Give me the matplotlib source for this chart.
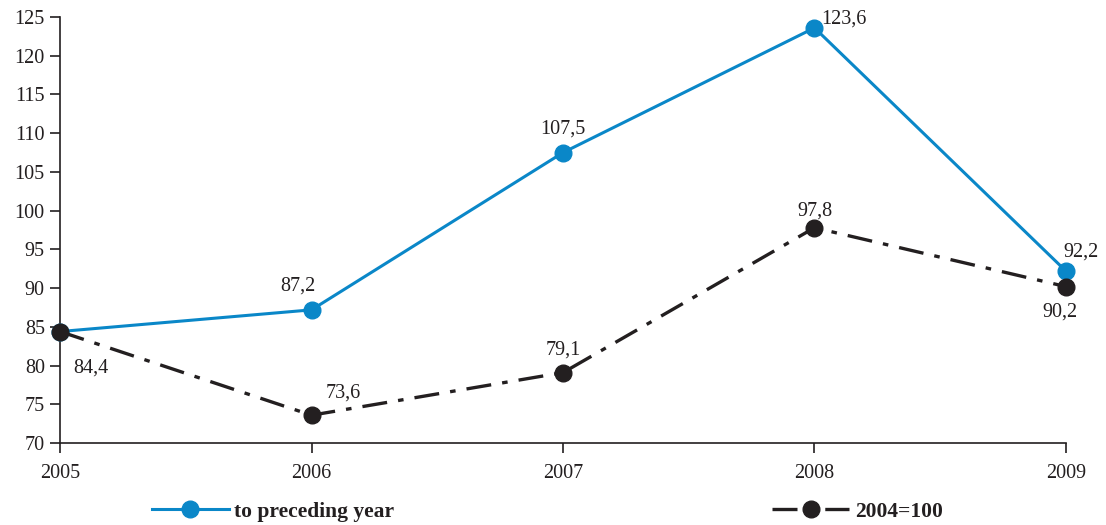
import matplotlib.pyplot as plt

plt.rcParams['font.family'] = ['Liberation Serif', 'DejaVu Serif']
plt.rcParams['lines.scale_dashes'] = False

# data
years = [2005, 2006, 2007, 2008, 2009]
prev_year = [84.4, 87.2, 107.5, 123.6, 92.2]
base_2004 = [84.4, 73.6, 79.1, 97.8, 90.2]

# label offsets (points) for each value
prev_offsets = [None, (-10, 17), (0, 17), (21, 6), (11, 14)]
base_offsets = [(22, -26), (23, 16), (0, 16), (0, 12), (-4, -18)]

blue = '#0a87c8'
dark = '#231f20'

fig = plt.figure(figsize=(11.06, 5.25), dpi=100)
ax = fig.add_axes([0.0543, 0.156, 0.9095, 0.8116])

l1, = ax.plot(years, prev_year, color=blue, lw=2.2, marker='o', ms=12,
              markeredgecolor=blue, zorder=3, clip_on=False)
l2, = ax.plot(years, base_2004, color=dark, lw=2.4, marker='o', ms=12,
              markeredgecolor=dark, dashes=(18, 8, 4, 8), zorder=4,
              clip_on=False)

def fmt(v):
    return ('%.1f' % v).replace('.', ',')

for x, y, off in zip(years, prev_year, prev_offsets):
    if off is None:
        continue
    ax.annotate(fmt(y), (x, y), xytext=off, textcoords='offset points',
                ha='center', va='center', fontsize=14.5, color=dark)
for x, y, off in zip(years, base_2004, base_offsets):
    ax.annotate(fmt(y), (x, y), xytext=off, textcoords='offset points',
                ha='center', va='center', fontsize=14.5, color=dark)

ax.set_xlim(2005, 2009)
ax.set_ylim(70, 125)
ax.set_xticks(years)
ax.set_yticks(range(70, 126, 5))
ax.tick_params(axis='both', direction='out', length=7, width=1.2,
               labelsize=14.5, colors=dark)
ax.tick_params(axis='x', pad=8)
ax.tick_params(axis='y', pad=4)
ax.spines['top'].set_visible(False)
ax.spines['right'].set_visible(False)
for s in ('left', 'bottom'):
    ax.spines[s].set_linewidth(1.2)
    ax.spines[s].set_color(dark)

leg_font = {'weight': 'bold', 'size': 15.5, 'family': 'Liberation Serif'}
lg1 = fig.legend([l1], ['to preceding year'], loc='center left',
                 bbox_to_anchor=(0.137, 0.025), frameon=False, prop=leg_font,
                 handlelength=3.6, handletextpad=0.25, borderpad=0,
                 borderaxespad=0)
lg2 = fig.legend([l2], ['2004=100'], loc='center left',
                 bbox_to_anchor=(0.698, 0.025), frameon=False, prop=leg_font,
                 handlelength=3.6, handletextpad=0.25, borderpad=0,
                 borderaxespad=0)
for t in lg1.get_texts() + lg2.get_texts():
    t.set_color(dark)

fig.savefig('out.png', dpi=100)
